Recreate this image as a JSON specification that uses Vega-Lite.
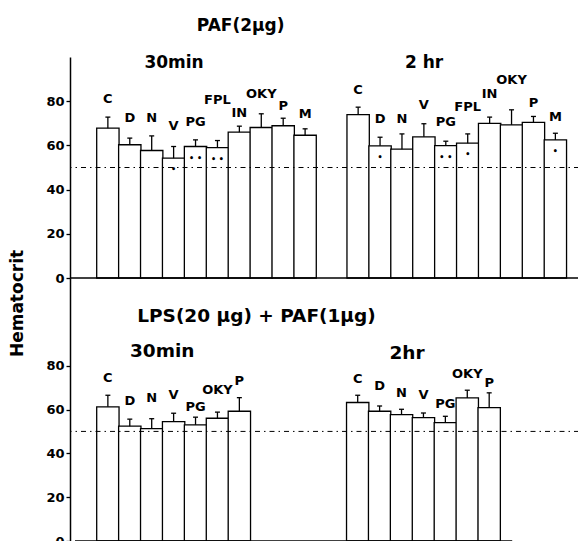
{
  "$schema": "https://vega.github.io/schema/vega-lite/v6.json",
  "autosize": {"type": "pad"},
  "padding": {"left": 7, "top": 16, "right": 0, "bottom": 0},
  "background": "white",
  "spacing": 0,
  "bounds": "flush",
  "config": {
    "view": {"stroke": null},
    "font": "DejaVu Sans",
    "axis": {"grid": false, "domainColor": "black", "domainWidth": 1.5, "tickColor": "black", "tickSize": 4, "tickWidth": 1.3, "labelFont": "DejaVu Sans", "labelFontWeight": "bold", "labelFontSize": 13, "labelColor": "black", "labelPadding": 2}
  },
  "datasets": {
    "bars": [
      {"panel": "A", "time": "30min", "cond": "C", "xc": 1.5, "mean": 67.8, "hi": 72.8, "ly": 80.8, "sig": ""},
      {"panel": "A", "time": "30min", "cond": "D", "xc": 2.5, "mean": 60.3, "hi": 63.3, "ly": 72.6, "sig": ""},
      {"panel": "A", "time": "30min", "cond": "N", "xc": 3.5, "mean": 57.7, "hi": 64.3, "ly": 72.6, "sig": ""},
      {"panel": "A", "time": "30min", "cond": "V", "xc": 4.5, "mean": 54.2, "hi": 59.5, "ly": 68.7, "sig": "•"},
      {"panel": "A", "time": "30min", "cond": "PG", "xc": 5.5, "mean": 59.5, "hi": 62.5, "ly": 70.8, "sig": "• •"},
      {"panel": "A", "time": "30min", "cond": "FPL", "xc": 6.5, "mean": 59.0, "hi": 62.2, "ly": 80.7, "sig": "• •"},
      {"panel": "A", "time": "30min", "cond": "IN", "xc": 7.5, "mean": 66.0, "hi": 68.7, "ly": 74.6, "sig": ""},
      {"panel": "A", "time": "30min", "cond": "OKY", "xc": 8.5, "mean": 68.1, "hi": 74.3, "ly": 83.4, "sig": ""},
      {"panel": "A", "time": "30min", "cond": "P", "xc": 9.5, "mean": 68.9, "hi": 72.3, "ly": 78.0, "sig": ""},
      {"panel": "A", "time": "30min", "cond": "M", "xc": 10.5, "mean": 64.6, "hi": 67.5, "ly": 74.3, "sig": ""},
      {"panel": "A", "time": "2 hr", "cond": "C", "xc": 12.92, "mean": 73.9, "hi": 77.3, "ly": 84.9, "sig": ""},
      {"panel": "A", "time": "2 hr", "cond": "D", "xc": 13.92, "mean": 59.8, "hi": 63.7, "ly": 72.0, "sig": "•"},
      {"panel": "A", "time": "2 hr", "cond": "N", "xc": 14.92, "mean": 58.3, "hi": 65.2, "ly": 72.0, "sig": ""},
      {"panel": "A", "time": "2 hr", "cond": "V", "xc": 15.92, "mean": 63.9, "hi": 69.8, "ly": 78.5, "sig": ""},
      {"panel": "A", "time": "2 hr", "cond": "PG", "xc": 16.92, "mean": 59.9, "hi": 61.9, "ly": 70.8, "sig": "• •"},
      {"panel": "A", "time": "2 hr", "cond": "FPL", "xc": 17.92, "mean": 61.0, "hi": 65.2, "ly": 77.3, "sig": "•"},
      {"panel": "A", "time": "2 hr", "cond": "IN", "xc": 18.92, "mean": 70.0, "hi": 72.8, "ly": 83.4, "sig": ""},
      {"panel": "A", "time": "2 hr", "cond": "OKY", "xc": 19.92, "mean": 69.3, "hi": 76.1, "ly": 89.7, "sig": ""},
      {"panel": "A", "time": "2 hr", "cond": "P", "xc": 20.92, "mean": 70.4, "hi": 73.1, "ly": 79.1, "sig": ""},
      {"panel": "A", "time": "2 hr", "cond": "M", "xc": 21.92, "mean": 62.5, "hi": 65.5, "ly": 72.8, "sig": "•"},
      {"panel": "B", "time": "30min", "cond": "C", "xc": 1.5, "mean": 61.2, "hi": 66.5, "ly": 74.6, "sig": ""},
      {"panel": "B", "time": "30min", "cond": "D", "xc": 2.5, "mean": 52.4, "hi": 55.6, "ly": 63.9, "sig": ""},
      {"panel": "B", "time": "30min", "cond": "N", "xc": 3.5, "mean": 51.3, "hi": 55.8, "ly": 65.4, "sig": ""},
      {"panel": "B", "time": "30min", "cond": "V", "xc": 4.5, "mean": 54.5, "hi": 58.3, "ly": 66.5, "sig": ""},
      {"panel": "B", "time": "30min", "cond": "PG", "xc": 5.5, "mean": 53.0, "hi": 56.5, "ly": 61.2, "sig": ""},
      {"panel": "B", "time": "30min", "cond": "OKY", "xc": 6.5, "mean": 56.0, "hi": 58.8, "ly": 68.8, "sig": ""},
      {"panel": "B", "time": "30min", "cond": "P", "xc": 7.5, "mean": 59.2, "hi": 65.4, "ly": 73.1, "sig": ""},
      {"panel": "B", "time": "2hr", "cond": "C", "xc": 12.9, "mean": 63.2, "hi": 66.5, "ly": 73.8, "sig": ""},
      {"panel": "B", "time": "2hr", "cond": "D", "xc": 13.9, "mean": 59.2, "hi": 61.6, "ly": 70.8, "sig": ""},
      {"panel": "B", "time": "2hr", "cond": "N", "xc": 14.9, "mean": 57.7, "hi": 60.1, "ly": 67.7, "sig": ""},
      {"panel": "B", "time": "2hr", "cond": "V", "xc": 15.9, "mean": 56.3, "hi": 58.4, "ly": 66.5, "sig": ""},
      {"panel": "B", "time": "2hr", "cond": "PG", "xc": 16.9, "mean": 54.0, "hi": 56.9, "ly": 62.4, "sig": ""},
      {"panel": "B", "time": "2hr", "cond": "OKY", "xc": 17.9, "mean": 65.3, "hi": 68.8, "ly": 76.4, "sig": ""},
      {"panel": "B", "time": "2hr", "cond": "P", "xc": 18.9, "mean": 60.9, "hi": 67.6, "ly": 72.3, "sig": ""}
    ],
    "labels": [
      {"panel": "A", "text": "PAF(2μg)", "x": 7.56, "y": 114.2},
      {"panel": "A", "text": "30min", "x": 4.52, "y": 97.2},
      {"panel": "A", "text": "2 hr", "x": 15.93, "y": 97.2},
      {"panel": "B", "text": "LPS(20 μg) + PAF(1μg)", "x": 8.28, "y": 102.7},
      {"panel": "B", "text": "30min", "x": 3.98, "y": 86.8},
      {"panel": "B", "text": "2hr", "x": 15.15, "y": 85.8}
    ]
  },
  "vconcat": [
    {
      "width": 509,
      "height": 221,
      "layer": [
        {
          "data": {"name": "bars"},
          "transform": [{"filter": "datum.panel === 'A'"}],
          "mark": {"type": "bar", "width": 22.35, "fill": "white", "stroke": "black", "strokeWidth": 1.3},
          "encoding": {
            "x": {"field": "xc", "type": "quantitative", "scale": {"domain": [0, 22.77], "nice": false, "zero": false}, "axis": null},
            "y": {"field": "mean", "type": "quantitative", "scale": {"domain": [0, 100], "nice": false}, "axis": {"title": null, "values": [0, 20, 40, 60, 80]}}
          }
        },
        {
          "data": {"name": "bars"},
          "transform": [{"filter": "datum.panel === 'A'"}],
          "mark": {"type": "rule", "stroke": "black", "strokeWidth": 1.3},
          "encoding": {
            "x": {"field": "xc", "type": "quantitative"},
            "y": {"field": "mean", "type": "quantitative"},
            "y2": {"field": "hi"}
          }
        },
        {
          "data": {"name": "bars"},
          "transform": [{"filter": "datum.panel === 'A'"}],
          "mark": {"type": "tick", "orient": "horizontal", "size": 5, "thickness": 1.3, "color": "black", "opacity": 1},
          "encoding": {
            "x": {"field": "xc", "type": "quantitative"},
            "y": {"field": "hi", "type": "quantitative"}
          }
        },
        {
          "data": {"name": "bars"},
          "transform": [{"filter": "datum.panel === 'A'"}],
          "mark": {"type": "text", "font": "DejaVu Sans", "fontWeight": "bold", "fontSize": 13, "color": "black", "baseline": "middle"},
          "encoding": {
            "x": {"field": "xc", "type": "quantitative"},
            "y": {"field": "ly", "type": "quantitative"},
            "text": {"field": "cond"}
          }
        },
        {
          "data": {"name": "bars"},
          "transform": [{"filter": "datum.panel === 'A'"}],
          "mark": {"type": "text", "font": "DejaVu Sans", "fontWeight": "bold", "fontSize": 8, "color": "black", "baseline": "middle", "dy": 12},
          "encoding": {
            "x": {"field": "xc", "type": "quantitative"},
            "y": {"field": "mean", "type": "quantitative"},
            "text": {"field": "sig"}
          }
        },
        {
          "data": {"name": "labels"},
          "transform": [{"filter": "datum.panel === 'A'"}],
          "mark": {"type": "text", "font": "DejaVu Sans", "fontWeight": "bold", "fontSize": 17, "color": "black", "baseline": "middle"},
          "encoding": {
            "x": {"field": "x", "type": "quantitative"},
            "y": {"field": "y", "type": "quantitative"},
            "text": {"field": "text"}
          }
        },
        {
          "data": {"values": [{"ref": 50}]},
          "mark": {"type": "rule", "stroke": "black", "strokeWidth": 1, "strokeDash": [5, 4, 1.5, 4]},
          "encoding": {"y": {"field": "ref", "type": "quantitative"}}
        },
        {
          "data": {"values": [{"base": 0}]},
          "mark": {"type": "rule", "stroke": "black", "strokeWidth": 1.5},
          "encoding": {"y": {"field": "base", "type": "quantitative"}}
        }
      ]
    },
    {
      "width": 509,
      "height": 263,
      "layer": [
        {
          "data": {"name": "bars"},
          "transform": [{"filter": "datum.panel === 'B'"}],
          "mark": {"type": "bar", "width": 22.35, "fill": "white", "stroke": "black", "strokeWidth": 1.3},
          "encoding": {
            "x": {"field": "xc", "type": "quantitative", "scale": {"domain": [0, 22.77], "nice": false, "zero": false}, "axis": null},
            "y": {"field": "mean", "type": "quantitative", "scale": {"domain": [0, 120], "nice": false}, "axis": {"title": "Hematocrit", "values": [0, 20, 40, 60, 80], "titleFont": "DejaVu Sans", "titleFontWeight": "bold", "titleFontSize": 17, "titleColor": "black", "titleX": -53, "titleY": 25, "titleAlign": "center", "titleBaseline": "middle", "titleAngle": -90}}
          }
        },
        {
          "data": {"name": "bars"},
          "transform": [{"filter": "datum.panel === 'B'"}],
          "mark": {"type": "rule", "stroke": "black", "strokeWidth": 1.3},
          "encoding": {
            "x": {"field": "xc", "type": "quantitative"},
            "y": {"field": "mean", "type": "quantitative"},
            "y2": {"field": "hi"}
          }
        },
        {
          "data": {"name": "bars"},
          "transform": [{"filter": "datum.panel === 'B'"}],
          "mark": {"type": "tick", "orient": "horizontal", "size": 5, "thickness": 1.3, "color": "black", "opacity": 1},
          "encoding": {
            "x": {"field": "xc", "type": "quantitative"},
            "y": {"field": "hi", "type": "quantitative"}
          }
        },
        {
          "data": {"name": "bars"},
          "transform": [{"filter": "datum.panel === 'B'"}],
          "mark": {"type": "text", "font": "DejaVu Sans", "fontWeight": "bold", "fontSize": 13, "color": "black", "baseline": "middle"},
          "encoding": {
            "x": {"field": "xc", "type": "quantitative"},
            "y": {"field": "ly", "type": "quantitative"},
            "text": {"field": "cond"}
          }
        },
        {
          "data": {"name": "labels"},
          "transform": [{"filter": "datum.panel === 'B'"}],
          "mark": {"type": "text", "font": "DejaVu Sans", "fontWeight": "bold", "fontSize": 18.5, "color": "black", "baseline": "middle"},
          "encoding": {
            "x": {"field": "x", "type": "quantitative"},
            "y": {"field": "y", "type": "quantitative"},
            "text": {"field": "text"},
            "size": {"value": 18.5}
          }
        },
        {
          "data": {"values": [{"ref": 50}]},
          "mark": {"type": "rule", "stroke": "black", "strokeWidth": 1, "strokeDash": [5, 4, 1.5, 4]},
          "encoding": {"y": {"field": "ref", "type": "quantitative"}}
        },
        {
          "data": {"values": [{"base": 0, "from": 0, "to": 19.95}]},
          "mark": {"type": "rule", "stroke": "black", "strokeWidth": 1.5},
          "encoding": {"y": {"field": "base", "type": "quantitative"}, "x": {"field": "from", "type": "quantitative"}, "x2": {"field": "to"}}
        }
      ]
    }
  ]
}
